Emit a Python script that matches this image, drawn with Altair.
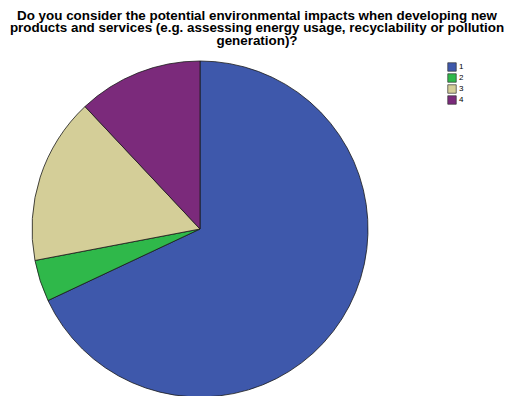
import altair as alt
import pandas as pd

categories = ["1", "2", "3", "4"]
counts = [17, 1, 4, 3]
colors = ["#3e58ab", "#2fb84a", "#d4ce98", "#7b2a7b"]
title_lines = [
    "Do you consider the potential environmental impacts when developing new",
    "products and services (e.g. assessing energy usage, recyclability or pollution",
    "generation)?",
]

df = pd.DataFrame({"cat": categories, "count": counts, "ord": list(range(len(categories)))})

chart = (
    alt.Chart(df)
    .mark_arc(radius=168, stroke="#1a1a1a", strokeWidth=0.8)
    .encode(
        theta=alt.Theta("count:Q", stack=True),
        order=alt.Order("ord:Q"),
        color=alt.Color(
            "cat:N",
            scale=alt.Scale(domain=categories, range=colors),
            legend=alt.Legend(
                title=None,
                orient="none",
                legendX=447,
                legendY=14,
                symbolType="square",
                symbolSize=72,
                symbolStrokeColor="#333",
                symbolStrokeWidth=0.7,
                symbolOpacity=1,
                labelFont="Liberation Sans",
                labelFontSize=8,
                labelColor="#000",
                labelOffset=2,
                rowPadding=-1,
                padding=0,
            ),
        ),
        x=alt.value(200),
        y=alt.value(181),
    )
    .properties(
        width=514,
        height=348,
        padding={"left": 0, "top": 48, "right": 0, "bottom": 0},
        autosize=alt.AutoSizeParams(type="none"),
        title=alt.TitleParams(
            text=title_lines,
            font="Liberation Sans",
            fontSize=13.4,
            fontWeight="bold",
            color="#000",
            lineHeight=12.3,
            anchor="middle",
            offset=1,
        ),
    )
    .configure_view(stroke=None)
)

chart.save("out.html", embed_options={"renderer": "svg", "actions": False})
